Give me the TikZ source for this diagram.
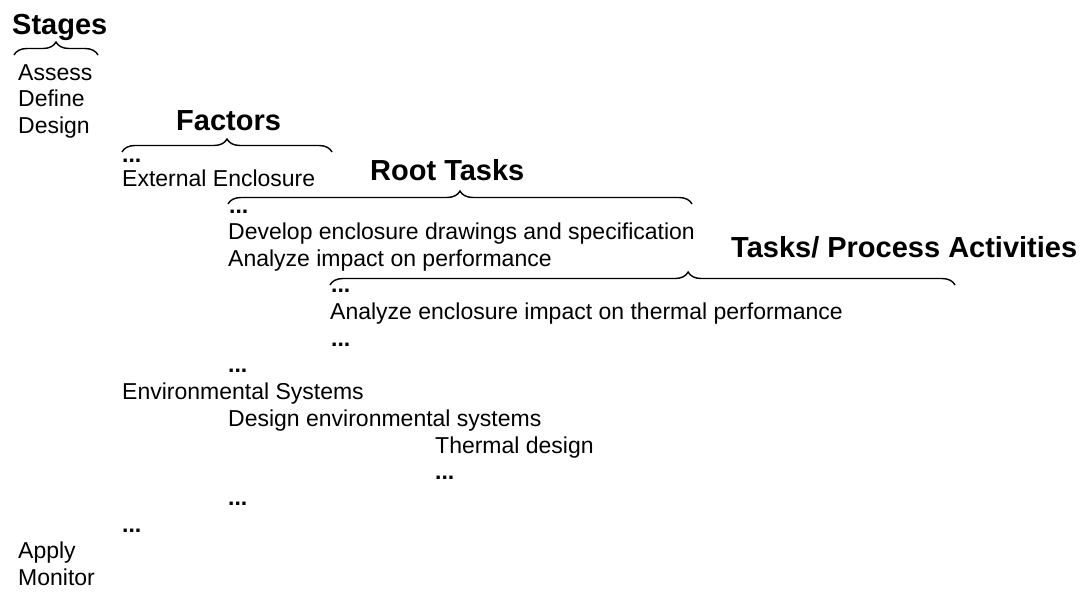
\documentclass[tikz,border=0pt]{standalone}
\usepackage{fontspec}
\setmainfont{Liberation Sans}
\usetikzlibrary{decorations.pathreplacing}
\begin{document}
\begin{tikzpicture}[x=1pt,y=-1pt,
  txt/.style={anchor=base west,inner sep=0pt,font=\fontsize{23}{27}\selectfont},
  hdr/.style={anchor=base west,inner sep=0pt,font=\fontsize{29}{32}\selectfont\bfseries},
  dots/.style={anchor=base west,inner sep=0pt,font=\fontsize{23}{27}\selectfont\bfseries},
  brc/.style={draw=black,line width=1.4pt,decorate,decoration={brace,amplitude=13pt}}]
\useasboundingbox (0,0) rectangle (1082,592);
% headers
\node[hdr] (stages) at (12,34) {Stages};
\node[hdr] (factors) at (176,130) {Factors};
\node[hdr] (roottasks) at (370,180) {Root Tasks};
\node[hdr] (tasks) at (731,257) {Tasks/ Process Activities};
% braces
\coordinate (b1l) at (14,55); \coordinate (b1r) at (98,55);
\coordinate (b2l) at (122,152); \coordinate (b2r) at (332,152);
\coordinate (b3l) at (228,204); \coordinate (b3r) at (692,204);
\coordinate (b4l) at (330,285); \coordinate (b4r) at (955,285);
\draw[brc] (b1l) -- (b1r);
\draw[brc] (b2l) -- (b2r);
\draw[brc] (b3l) -- (b3r);
\draw[brc,decoration={brace,amplitude=13pt,aspect=0.573}] (b4l) -- (b4r);
% stages
\node[txt] (assess) at (18,80) {Assess};
\node[txt] (define) at (18,106) {Define};
\node[txt] (design) at (18,133) {Design};
% factors
\node[dots] (d1) at (122,162) {...};
\node[txt] (extenc) at (122,186) {External Enclosure};
% root tasks
\node[dots] (d2) at (229,213) {...};
\node[txt] (develop) at (228,239) {Develop enclosure drawings and specification};
\node[txt] (analyze) at (228,266) {Analyze impact on performance};
% tasks
\node[dots] (d3) at (331,292) {...};
\node[txt] (analyzeenc) at (330,319) {Analyze enclosure impact on thermal performance};
\node[dots] (d4) at (331,346) {...};
\node[dots] (d5) at (228,372) {...};
\node[txt] (envsys) at (122,399) {Environmental Systems};
\node[txt] (designenv) at (228,426) {Design environmental systems};
\node[txt] (thermal) at (435,453) {Thermal design};
\node[dots] (d6) at (435,479) {...};
\node[dots] (d7) at (228,505) {...};
\node[dots] (d8) at (122,532) {...};
\node[txt] (apply) at (18,558) {Apply};
\node[txt] (monitor) at (18,585) {Monitor};
\end{tikzpicture}
\end{document}
